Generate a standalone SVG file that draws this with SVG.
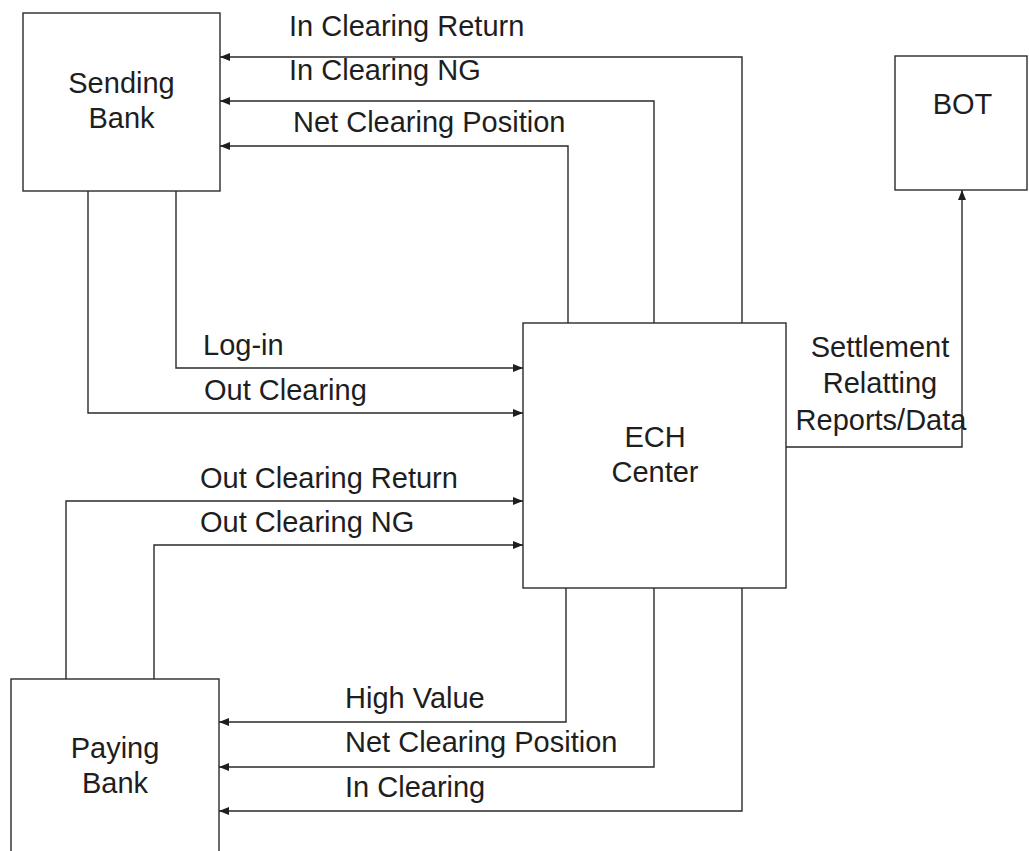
<svg xmlns="http://www.w3.org/2000/svg" width="1029" height="851" viewBox="0 0 1029 851">
  <style>
    .box { fill: #ffffff; stroke: #2a2a2a; stroke-width: 1.4; }
    .wire { fill: none; stroke: #2a2a2a; stroke-width: 1.4; }
    .lbl { font-family: "Liberation Sans", Arial, sans-serif; font-size: 29px; fill: #1e1e1e; }
    .mid { text-anchor: middle; }
  </style>
  <defs>
    <marker id="arrow" viewBox="0 0 10 8" refX="10" refY="4" markerWidth="10" markerHeight="8" markerUnits="userSpaceOnUse" orient="auto">
      <path d="M0,0 L10,4 L0,8 Z" fill="#1e1e1e"/>
    </marker>
  </defs>
  <rect width="1029" height="851" fill="#ffffff"/>

  <!-- participants -->
  <g id="sending-bank">
    <rect class="box" x="23" y="13" width="197" height="178"/>
    <text class="lbl mid" x="121.5" y="93">Sending</text>
    <text class="lbl mid" x="121.5" y="128">Bank</text>
  </g>

  <g id="bot">
    <rect class="box" x="895" y="56" width="132" height="134"/>
    <text class="lbl mid" x="962.5" y="114">BOT</text>
  </g>

  <g id="ech-center">
    <rect class="box" x="523" y="323" width="263" height="265"/>
    <text class="lbl mid" x="655" y="447">ECH</text>
    <text class="lbl mid" x="655" y="482">Center</text>
  </g>

  <g id="paying-bank">
    <rect class="box" x="11" y="679" width="208" height="190"/>
    <text class="lbl mid" x="115" y="758">Paying</text>
    <text class="lbl mid" x="115" y="793">Bank</text>
  </g>

  <!-- message flows -->
  <g id="connectors">
    <!-- ECH Center to Sending Bank -->
    <path class="wire" d="M742,323 V57 H220" marker-end="url(#arrow)"/>
    <path class="wire" d="M654,323 V101 H220" marker-end="url(#arrow)"/>
    <path class="wire" d="M568,323 V146 H220" marker-end="url(#arrow)"/>
    <text class="lbl" x="289" y="36">In Clearing Return</text>
    <text class="lbl" x="289" y="80">In Clearing NG</text>
    <text class="lbl" x="293" y="132">Net Clearing Position</text>

    <!-- Sending Bank to ECH Center -->
    <path class="wire" d="M176,191 V368 H523" marker-end="url(#arrow)"/>
    <path class="wire" d="M88,191 V413 H523" marker-end="url(#arrow)"/>
    <text class="lbl" x="203" y="355">Log-in</text>
    <text class="lbl" x="204" y="400">Out Clearing</text>

    <!-- Paying Bank to ECH Center -->
    <path class="wire" d="M66,679 V501 H523" marker-end="url(#arrow)"/>
    <path class="wire" d="M154,679 V545 H523" marker-end="url(#arrow)"/>
    <text class="lbl" x="200" y="488">Out Clearing Return</text>
    <text class="lbl" x="200" y="532">Out Clearing NG</text>

    <!-- ECH Center to Paying Bank -->
    <path class="wire" d="M566,588 V722 H219" marker-end="url(#arrow)"/>
    <path class="wire" d="M654,588 V767 H219" marker-end="url(#arrow)"/>
    <path class="wire" d="M742,588 V811 H219" marker-end="url(#arrow)"/>
    <text class="lbl" x="345" y="708">High Value</text>
    <text class="lbl" x="345" y="752">Net Clearing Position</text>
    <text class="lbl" x="345" y="797">In Clearing</text>

    <!-- ECH Center to BOT -->
    <path class="wire" d="M786,447 H962 V190" marker-end="url(#arrow)"/>
    <text class="lbl mid" x="880" y="357">Settlement</text>
    <text class="lbl mid" x="880" y="393">Relatting</text>
    <text class="lbl mid" x="881" y="430">Reports/Data</text>
  </g>
</svg>
